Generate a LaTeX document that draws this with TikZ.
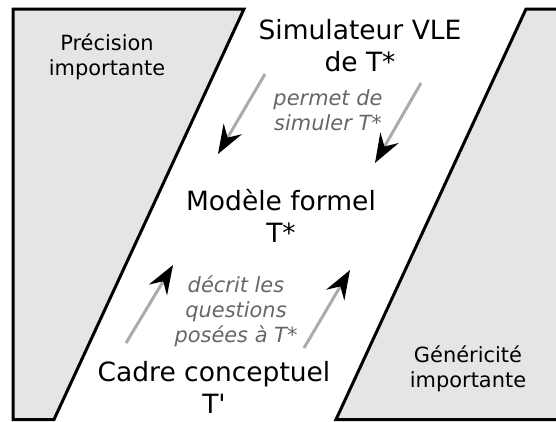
\documentclass[tikz,border=0pt]{standalone}
\usepackage{fontspec}
\setmainfont{DejaVu Sans}[Ligatures=TeXOff]
\usepackage{xcolor}
\usetikzlibrary{arrows.meta}

\tikzset{
    zone/.style={draw=black, line width=3bp, fill=black!10, line join=miter},
    lbl/.style={font=\fontsize{26.6}{32}\selectfont, align=center, inner sep=0pt, anchor=base},
    side/.style={font=\fontsize{21}{25}\selectfont, align=center, inner sep=0pt, anchor=base},
    note/.style={font=\fontsize{21}{25}\selectfont\itshape, text=black!60, align=center, inner sep=0pt, anchor=base},
    link/.style={draw=black!33, line width=3bp, -{Stealth[black, length=29bp, width=21bp, inset=10bp]}}
}

\begin{document}
\begin{tikzpicture}[x=1bp, y=-1bp]
    \clip (0,0) rectangle (556,421);

    % zones
    \draw[zone] (13,9) -- (244,9) -- (54,419.5) -- (13,419.5) -- cycle;
    \draw[zone] (526,9) -- (600,9) -- (600,419.5) -- (336,419.5) -- cycle;
    \node[side] (prec) at (107,75) {Précision\\importante};
    \node[side] (gen) at (468,387) {Généricité\\importante};

    % main labels
    \node[lbl] (sim) at (360,71) {Simulateur VLE\\de T*};
    \node[lbl] (mod) at (281,242) {Modèle formel\\T*};
    \node[lbl] (cadre) at (214,413) {Cadre conceptuel\\T'};

    % notes
    \node[note] (perm) at (328,130) {permet de\\simuler T*};
    \node[note] (desc) at (236,342) {décrit les\\questions\\posées à T*};

    % arrows
    \coordinate (s1) at (265,74);  \coordinate (e1) at (218,154);
    \coordinate (s2) at (421,83);  \coordinate (e2) at (375,163);
    \coordinate (s3) at (126,343); \coordinate (e3) at (173,265);
    \coordinate (s4) at (304,348); \coordinate (e4) at (350,270);
    \draw[link] (s1) -- (e1);
    \draw[link] (s2) -- (e2);
    \draw[link] (s3) -- (e3);
    \draw[link] (s4) -- (e4);
\end{tikzpicture}
\end{document}
